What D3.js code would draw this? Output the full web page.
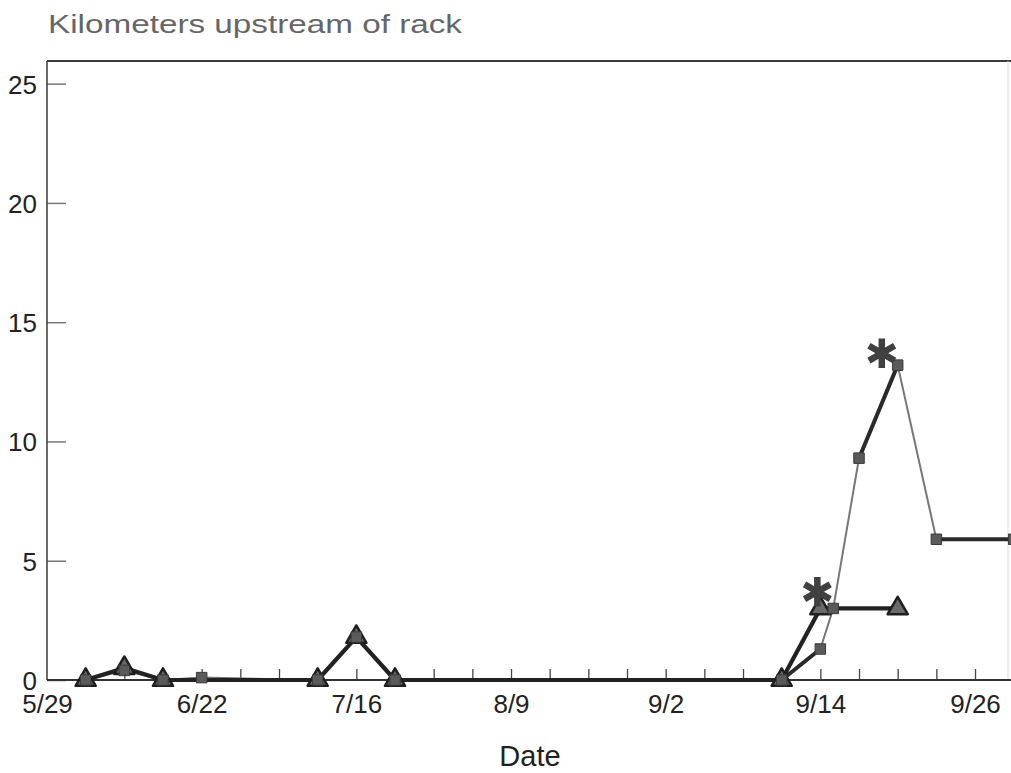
<!DOCTYPE html>
<html>
<head>
<meta charset="utf-8">
<script src="https://cdn.jsdelivr.net/npm/d3@7"></script>
<style>
  html, body { margin: 0; padding: 0; background: #fff; }
  svg { display: block; }
  text { font-family: "Liberation Sans", Arial, Helvetica, sans-serif; }
</style>
</head>
<body>
<script>
// Season the fish were tracked
const year = 1993;

// Labelled dates along the x axis (equally spaced on the plot)
const tickLabels = ["5/29", "6/22", "7/16", "8/9", "9/2", "9/14", "9/26"];
const yTicks = [0, 5, 10, 15, 20, 25];

// Fish tracked with triangle markers
const triDates = ["6/4", "6/10", "6/16", "7/10", "7/16", "7/22", "9/11", "9/14", "9/20"];
const triKm    = [0, 0.5, 0, 0, 1.8, 0, 0, 3.0, 3.0];

// Fish tracked with square markers
const sqDates = ["6/4", "6/10", "6/16", "6/22", "7/10", "7/16", "7/22", "9/11", "9/14", "9/15", "9/17", "9/20", "9/23", "9/29"];
const sqKm    = [0, 0.4, 0, 0.1, 0, 1.8, 0, 0, 1.3, 3.0, 9.3, 13.2, 5.9, 5.9];

// Days with repeated square-fish fixes (null = no fix, breaks the line)
const sq2Dates = ["9/11", "9/14", "9/15", "9/17", "9/20", "9/21", "9/23", "9/29"];
const sq2Km    = [0, 1.3, null, 9.3, 13.2, null, 5.9, 5.9];

// Asterisk markers
const starDates = ["9/14", "9/19"];
const starKm    = [3.7, 13.7];

const W = 1011, H = 773;
const plotLeft = 47, plotTop = 61, plotBottom = 680, plotRight = 1011;
const majorStep = 154.67;
const yMax = 25.95;

const parse = s => { const [m, d] = s.split("/").map(Number); return new Date(year, m - 1, d); };
const zip = (ds, vs) => ds.map((d, i) => ({ date: parse(d), km: vs[i] }));

const labelDates = tickLabels.map(parse);
const x = d3.scaleTime()
  .domain(labelDates)
  .range(labelDates.map((d, i) => plotLeft + i * majorStep));
const y = d3.scaleLinear().domain([0, yMax]).range([plotBottom, plotTop]);

const svg = d3.select("body").append("svg")
  .attr("width", W).attr("height", H);

// Minor ticks: four intervals between each pair of labelled dates
const minorTicks = [];
for (let i = 0; i < labelDates.length - 1; i++) {
  const d0 = labelDates[i], d1 = labelDates[i + 1];
  const step = d3.timeDay.count(d0, d1) / 4;
  for (let k = 1; k <= 4; k++) minorTicks.push(d3.timeDay.offset(d0, k * step));
}

// Subtitle
svg.append("text")
  .attr("x", 48).attr("y", 33)
  .attr("font-size", 25.5)
  .attr("fill", "#666")
  .attr("textLength", 414)
  .attr("lengthAdjust", "spacingAndGlyphs")
  .text("Kilometers upstream of rack");

// Frame
svg.append("line").attr("x1", plotLeft).attr("x2", plotRight).attr("y1", plotTop).attr("y2", plotTop)
  .attr("stroke", "#3a3a3a").attr("stroke-width", 2);
svg.append("line").attr("x1", 1008).attr("x2", 1008).attr("y1", plotTop).attr("y2", plotBottom)
  .attr("stroke", "#dcdcdc").attr("stroke-width", 1);

// Y axis
const yAxis = svg.append("g")
  .attr("transform", `translate(${plotLeft},0)`)
  .call(d3.axisLeft(y).tickValues(yTicks).tickSize(-19).tickPadding(10).tickFormat(d3.format("d")));
yAxis.select(".domain").remove();
yAxis.selectAll(".tick line").attr("stroke", "#777").attr("stroke-width", 1.5);
yAxis.selectAll(".tick text")
  .attr("font-size", 26).attr("fill", "#222").attr("dy", "0.36em");
svg.append("line").attr("x1", plotLeft).attr("x2", plotLeft).attr("y1", plotTop).attr("y2", plotBottom)
  .attr("stroke", "#444").attr("stroke-width", 1.6);

// X axis: minor ticks pointing into the plot
const xMinor = svg.append("g")
  .attr("transform", `translate(0,${plotBottom})`)
  .call(d3.axisBottom(x).tickValues(minorTicks).tickSize(-11).tickFormat(""));
xMinor.select(".domain").remove();
xMinor.selectAll(".tick line").attr("stroke", "#444").attr("stroke-width", 1.3);

// X axis labels
const xLabels = svg.append("g")
  .attr("transform", `translate(0,${plotBottom})`)
  .call(d3.axisBottom(x).tickValues(labelDates).tickSize(0).tickPadding(15)
    .tickFormat((d, i) => tickLabels[i]));
xLabels.select(".domain").remove();
xLabels.selectAll(".tick text").attr("font-size", 26).attr("fill", "#222");

svg.append("line").attr("x1", plotLeft).attr("x2", plotRight).attr("y1", plotBottom).attr("y2", plotBottom)
  .attr("stroke", "#333").attr("stroke-width", 2);

// X axis title
svg.append("text")
  .attr("x", 530).attr("y", 766)
  .attr("text-anchor", "middle")
  .attr("font-size", 29)
  .attr("fill", "#222")
  .text("Date");

// Series
const plot = svg.append("g");
const line = d3.line()
  .defined(d => d.km !== null)
  .x(d => x(d.date)).y(d => y(d.km));

const tri = zip(triDates, triKm);
const sq = zip(sqDates, sqKm);
const sq2 = zip(sq2Dates, sq2Km);
const stars = zip(starDates, starKm);

plot.append("path").datum(sq)
  .attr("fill", "none").attr("stroke", "#777").attr("stroke-width", 2)
  .attr("stroke-linejoin", "round").attr("d", line);
plot.append("path").datum(sq2)
  .attr("fill", "none").attr("stroke", "#2a2a2a").attr("stroke-width", 4)
  .attr("stroke-linejoin", "round").attr("d", line);
plot.append("path").datum(tri)
  .attr("fill", "none").attr("stroke", "#222").attr("stroke-width", 4.2)
  .attr("stroke-linejoin", "round").attr("d", line);

// Triangle markers
plot.selectAll(".tri").data(tri).join("path")
  .attr("class", "tri")
  .attr("transform", d => `translate(${x(d.date)},${y(d.km)})`)
  .attr("d", d3.symbol(d3.symbolTriangle, 175))
  .attr("fill", "#6a6a6a").attr("stroke", "#1e1e1e").attr("stroke-width", 2.5)
  .attr("stroke-linejoin", "round");

// Square markers
plot.selectAll(".sq").data(sq).join("path")
  .attr("class", "sq")
  .attr("transform", d => `translate(${x(d.date)},${y(d.km)})`)
  .attr("d", d3.symbol(d3.symbolSquare, 110))
  .attr("fill", "#5a5a5a").attr("stroke", "#3a3a3a").attr("stroke-width", 1);

// Asterisk markers
plot.selectAll(".star").data(stars).join("path")
  .attr("class", "star")
  .attr("transform", d => `translate(${x(d.date) - 3},${y(d.km)})`)
  .attr("d", d3.symbol(d3.symbolAsterisk, 620))
  .attr("fill", "none").attr("stroke", "#404040").attr("stroke-width", 6.5)
  .attr("stroke-linecap", "butt");
</script>
</body>
</html>
